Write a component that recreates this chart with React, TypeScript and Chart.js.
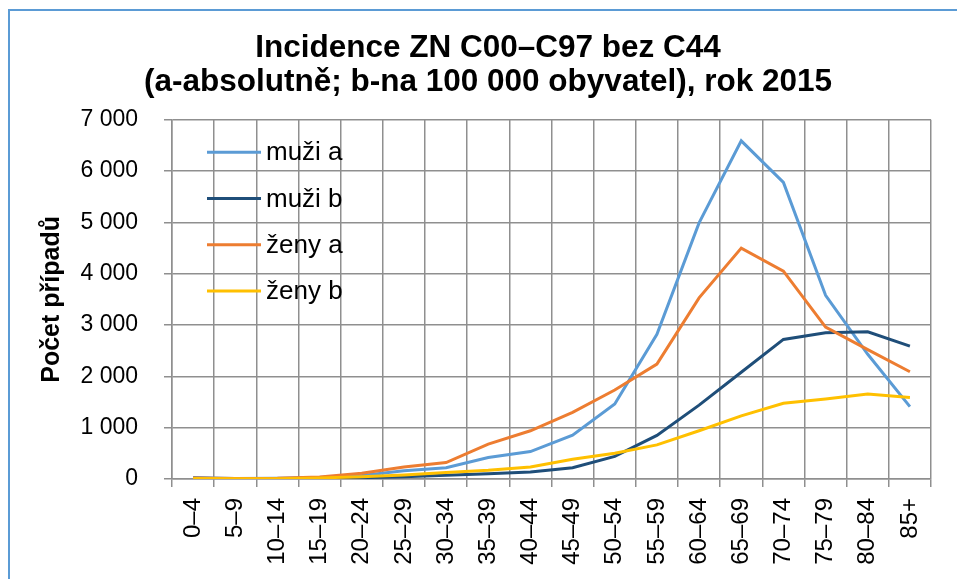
import React, { useEffect, useRef } from "react";
import { Chart, registerables } from "chart.js";

Chart.register(...registerables);

const categories = ["0–4", "5–9", "10–14", "15–19", "20–24", "25–29", "30–34", "35–39", "40–44", "45–49", "50–54", "55–59", "60–64", "65–69", "70–74", "75–79", "80–84", "85+"];

const muziA = [30, 10, 15, 30, 70, 160, 220, 420, 534, 855, 1460, 2820, 4990, 6590, 5780, 3580, 2430, 1410];
const muziB = [15, 3, 5, 10, 25, 45, 75, 100, 135, 220, 440, 850, 1440, 2080, 2720, 2850, 2870, 2590];
const zenyA = [20, 10, 15, 40, 110, 235, 320, 680, 940, 1300, 1735, 2240, 3530, 4500, 4050, 2960, 2520, 2090];
const zenyB = [10, 5, 5, 20, 45, 80, 125, 170, 235, 385, 500, 665, 940, 1230, 1475, 1560, 1655, 1590];

const seriesLabels = ["muži a", "muži b", "ženy a", "ženy b"];
const seriesColors = ["#5B9BD5", "#1F4E79", "#ED7D31", "#FFC000"];

const titleLines = ["Incidence ZN C00–C97 bez C44", "(a-absolutně; b-na 100 000 obyvatel), rok 2015"];
const yAxisTitle = "Počet případů";

const FONT = "'Liberation Sans', Arial, sans-serif";
const GRID = "#8f8f8f";

const fmt = (v: number) => String(v).replace(/\B(?=(\d{3})+(?!\d))/g, " ");

const framePlugin = {
  id: "frame",
  beforeDraw(chart: any) {
    const { ctx, width, height } = chart;
    ctx.save();
    ctx.fillStyle = "#ffffff";
    ctx.fillRect(0, 0, width, height);
    ctx.strokeStyle = "#5B9BD5";
    ctx.lineWidth = 2;
    ctx.strokeRect(9, 10, width + 20, height + 20);
    ctx.restore();
  },
};

const legendPlugin = {
  id: "insideLegend",
  afterDatasetsDraw(chart: any) {
    const { ctx, chartArea } = chart;
    const x0 = chartArea.left + 35;
    const y0 = chartArea.top + 32.5;
    const step = 46.2;
    ctx.save();
    chart.data.datasets.forEach((ds: any, i: number) => {
      const y = y0 + i * step;
      ctx.strokeStyle = ds.borderColor;
      ctx.lineWidth = 3;
      ctx.beginPath();
      ctx.moveTo(x0, y);
      ctx.lineTo(x0 + 54, y);
      ctx.stroke();
      ctx.fillStyle = "#000";
      ctx.font = `26px ${FONT}`;
      ctx.textBaseline = "middle";
      ctx.textAlign = "left";
      ctx.fillText(ds.label, x0 + 59, y + 1);
    });
    ctx.restore();
  },
};

export default function App() {
  const ref = useRef<HTMLCanvasElement>(null);
  useEffect(() => {
    if (!ref.current) return;
    const series = [muziA, muziB, zenyA, zenyB];
    const chart = new Chart(ref.current, {
      type: "line",
      data: {
        labels: categories,
        datasets: series.map((d, i) => ({
          label: seriesLabels[i],
          data: d,
          borderColor: seriesColors[i],
          backgroundColor: seriesColors[i],
          borderWidth: 3,
          pointRadius: 0,
          tension: 0,
          fill: false,
          order: 4 - i,
        })),
      },
      options: {
        responsive: false,
        animation: false,
        devicePixelRatio: 1,
        layout: { padding: { left: 45, right: 26, top: 0, bottom: 0 } },
        plugins: {
          legend: { display: false },
          tooltip: { enabled: false },
          title: {
            display: true,
            text: titleLines,
            color: "#000",
            font: { family: FONT, size: 31.5, weight: "bold", lineHeight: 1.06 },
            padding: { top: 32, bottom: 21 },
          },
        },
        scales: {
          x: {
            type: "category",
            offset: true,
            grid: { offset: true, color: GRID, lineWidth: 1.5, tickLength: 8, drawTicks: true },
            border: { color: GRID, width: 1.5 },
            ticks: {
              color: "#000",
              font: { family: FONT, size: 24 },
              maxRotation: 90,
              minRotation: 90,
              autoSkip: false,
              padding: 11,
            },
            afterFit(scale: any) {
              scale.height = 100;
            },
          },
          y: {
            min: 0,
            max: 7000,
            grid: { color: GRID, lineWidth: 1.5, tickLength: 8 },
            border: { color: GRID, width: 1.5 },
            ticks: {
              stepSize: 1000,
              color: "#000",
              font: { family: FONT, size: 23 },
              padding: 26,
              callback: (v: any) => fmt(Number(v)),
            },
            title: {
              display: true,
              text: yAxisTitle,
              color: "#000",
              font: { family: FONT, size: 25, weight: "bold", lineHeight: 1.2 },
              padding: { top: -8, bottom: 0 },
            },
            afterFit(scale: any) {
              scale.width = 127;
            },
          },
        },
      },
      plugins: [framePlugin, legendPlugin],
    });
    return () => chart.destroy();
  }, []);
  return (
    <div style={{ position: "absolute", left: 0, top: 0, width: 957, height: 579 }}>
      <canvas ref={ref} width={957} height={579} style={{ display: "block" }} />
    </div>
  );
}
